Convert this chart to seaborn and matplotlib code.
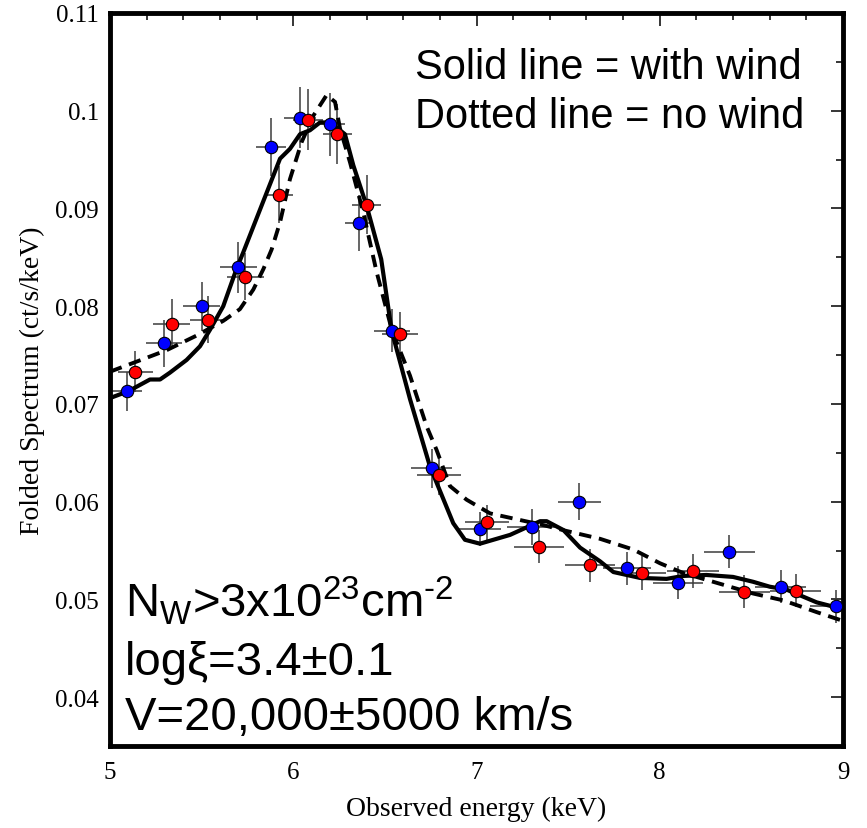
import matplotlib
matplotlib.use("Agg")
import matplotlib.pyplot as plt
from matplotlib.ticker import MultipleLocator, FuncFormatter
import pandas as pd
import seaborn as sns

# Observed spectrum, two data sets (energy in keV, flux in ct/s/keV)
blue_energy = [5.093, 5.295, 5.50, 5.70, 5.879, 6.037, 6.20, 6.359, 6.539, 6.755,
               7.019, 7.301, 7.561, 7.82, 8.10, 8.38, 8.66, 8.962]
blue_flux = [0.0713, 0.0762, 0.0800, 0.0840, 0.0963, 0.0993, 0.0986, 0.0885, 0.0775, 0.0634,
             0.0572, 0.0574, 0.0600, 0.0532, 0.0517, 0.0549, 0.0513, 0.0493]
blue_xerr = [0.08, 0.10, 0.10, 0.10, 0.08, 0.085, 0.08, 0.078, 0.10, 0.11,
             0.115, 0.137, 0.118, 0.13, 0.137, 0.14, 0.14, 0.14]
blue_yerr = [0.0020, 0.0024, 0.0025, 0.0026, 0.0030, 0.0031, 0.0032, 0.0029, 0.0022, 0.0020,
             0.0017, 0.0018, 0.0019, 0.0017, 0.0017, 0.0017, 0.0017, 0.0017]

red_energy = [5.138, 5.337, 5.537, 5.738, 5.92, 6.08, 6.24, 6.40, 6.583, 6.797,
              7.059, 7.341, 7.621, 7.903, 8.181, 8.461, 8.742]
red_flux = [0.0733, 0.0782, 0.0786, 0.0830, 0.0914, 0.0991, 0.0976, 0.0904, 0.0772, 0.0627,
            0.0579, 0.0554, 0.0535, 0.0527, 0.0529, 0.0508, 0.0509]
red_xerr = [0.095, 0.10, 0.10, 0.10, 0.077, 0.08, 0.078, 0.08, 0.10, 0.12,
            0.12, 0.137, 0.137, 0.13, 0.14, 0.14, 0.14]
red_yerr = [0.0021, 0.0025, 0.0024, 0.0024, 0.0029, 0.0031, 0.0031, 0.0030, 0.0022, 0.0020,
            0.0018, 0.0017, 0.0017, 0.0017, 0.0017, 0.0017, 0.0017]

# Folded model with the wind component
wind_energy = [5.0, 5.1, 5.218, 5.273, 5.327, 5.418, 5.491, 5.546, 5.618, 5.69,
               5.727, 5.819, 5.928, 5.982, 6.037, 6.091, 6.146, 6.20, 6.282, 6.328,
               6.40, 6.48, 6.537, 6.637, 6.746, 6.873, 6.937, 7.019, 7.183, 7.347,
               7.383, 7.474, 7.565, 7.674, 7.747, 7.892, 8.037, 8.128, 8.255, 8.40,
               8.51, 8.60, 8.692, 8.856, 9.0]
wind_flux = [0.0706, 0.0713, 0.0725, 0.0725, 0.0732, 0.0745, 0.0759, 0.0776, 0.0800, 0.0838,
             0.0855, 0.0899, 0.0951, 0.0961, 0.0976, 0.0980, 0.0988, 0.0988, 0.0976, 0.0944,
             0.0903, 0.0848, 0.0775, 0.0705, 0.0636, 0.0578, 0.0561, 0.0557, 0.0566, 0.0580,
             0.0580, 0.0571, 0.0553, 0.0539, 0.0528, 0.0522, 0.0521, 0.0524, 0.0525, 0.0523,
             0.0518, 0.0513, 0.0510, 0.0497, 0.0490]

# Folded model without the wind
nowind_energy = [5.0, 5.127, 5.309, 5.473, 5.618, 5.709, 5.782, 5.837, 5.882, 5.928,
                 5.982, 6.046, 6.11, 6.182, 6.228, 6.255, 6.31, 6.382, 6.455, 6.539,
                 6.637, 6.728, 6.782, 6.855, 6.946, 7.074, 7.219, 7.365, 7.492, 7.674,
                 7.856, 8.001, 8.128, 8.31, 8.51, 8.674, 8.856, 9.0]
nowind_flux = [0.0733, 0.0742, 0.0755, 0.0770, 0.0785, 0.0797, 0.0817, 0.0838, 0.0858, 0.0886,
               0.0930, 0.0968, 0.0995, 0.1016, 0.1009, 0.0982, 0.0947, 0.0896, 0.0835, 0.0775,
               0.0729, 0.0677, 0.0653, 0.0616, 0.0602, 0.0588, 0.0582, 0.0576, 0.0570, 0.0562,
               0.0551, 0.0537, 0.0527, 0.0517, 0.0506, 0.0499, 0.0487, 0.0478]

x_ticks = [5, 6, 7, 8, 9]
y_ticks = [0.04, 0.05, 0.06, 0.07, 0.08, 0.09, 0.1, 0.11]

sns.set_theme(style="white")
plt.rcParams["font.family"] = ["Liberation Serif", "DejaVu Serif"]
plt.rcParams["mathtext.fontset"] = "custom"
plt.rcParams["mathtext.rm"] = "Liberation Sans"
plt.rcParams["mathtext.it"] = "Liberation Sans"
plt.rcParams["mathtext.bf"] = "Liberation Sans"

fig = plt.figure(figsize=(8.67, 8.29), dpi=100)
ax = fig.add_axes([110 / 867, 1 - 747 / 829, 733 / 867, 733 / 829])

blue_df = pd.DataFrame({"energy": blue_energy, "flux": blue_flux})
red_df = pd.DataFrame({"energy": red_energy, "flux": red_flux})
wind_df = pd.DataFrame({"energy": wind_energy, "flux": wind_flux})
nowind_df = pd.DataFrame({"energy": nowind_energy, "flux": nowind_flux})

# error crosses
for e, f, xe, ye in [(blue_energy, blue_flux, blue_xerr, blue_yerr),
                     (red_energy, red_flux, red_xerr, red_yerr)]:
    ax.errorbar(e, f, xerr=xe, yerr=ye, fmt="none", ecolor="#3c3c3c",
                elinewidth=1.1, capsize=0, zorder=1)

# model curves
sns.lineplot(data=wind_df, x="energy", y="flux", ax=ax, color="black", lw=3.0,
             sort=False, estimator=None, zorder=2)
sns.lineplot(data=nowind_df, x="energy", y="flux", ax=ax, color="black", lw=2.8,
             sort=False, estimator=None, zorder=2, linestyle=(0, (3.2, 2.0)))

# data points
sns.scatterplot(data=blue_df, x="energy", y="flux", ax=ax, color="#0000ff", s=80,
                edgecolor="black", linewidth=0.8, zorder=3)
sns.scatterplot(data=red_df, x="energy", y="flux", ax=ax, color="#ff0000", s=80,
                edgecolor="black", linewidth=0.8, zorder=3)

ax.set_xlim(5, 9)
ax.set_ylim(0.035, 0.11)
ax.set_xticks(x_ticks)
ax.set_yticks(y_ticks)
ax.xaxis.set_minor_locator(MultipleLocator(0.2))
ax.yaxis.set_minor_locator(MultipleLocator(0.005))
ax.xaxis.set_major_formatter(FuncFormatter(lambda v, p: f"{v:g}"))
ax.yaxis.set_major_formatter(FuncFormatter(lambda v, p: f"{v:g}"))

ax.tick_params(which="both", direction="in", top=True, right=True,
               color="black", width=1.1, labelsize=18, labelcolor="black")
ax.tick_params(which="major", length=9)
ax.tick_params(which="minor", length=5)
ax.tick_params(axis="y", pad=8)
ax.tick_params(axis="x", pad=11)

for sp in ax.spines.values():
    sp.set_linewidth(3.5)
    sp.set_color("black")

ax.set_xlabel("Observed energy (keV)", fontsize=20, color="black", labelpad=9)
ax.set_ylabel("Folded Spectrum (ct/s/keV)", fontsize=20, color="black", labelpad=7)

sans = ["Liberation Sans", "DejaVu Sans"]
fig.text(415 / 867, 1 - 79 / 829, "Solid line = with wind", family=sans,
         fontsize=30, va="baseline", ha="left", color="black")
fig.text(415 / 867, 1 - 128 / 829, "Dotted line = no wind", family=sans,
         fontsize=30, va="baseline", ha="left", color="black")

fig.text(125 / 867, 1 - 617 / 829, r"N$_{\mathrm{W}}$>3x10$^{23}$cm$^{\text{-2}}$",
         family=sans, fontsize=34, va="baseline", ha="left", color="black")
fig.text(125 / 867, 1 - 675 / 829, "logξ=3.4±0.1",
         family=sans, fontsize=34, va="baseline", ha="left", color="black")
fig.text(125 / 867, 1 - 730 / 829, "V=20,000±5000 km/s",
         family=sans, fontsize=34, va="baseline", ha="left", color="black")

fig.savefig("out.png", dpi=100)
